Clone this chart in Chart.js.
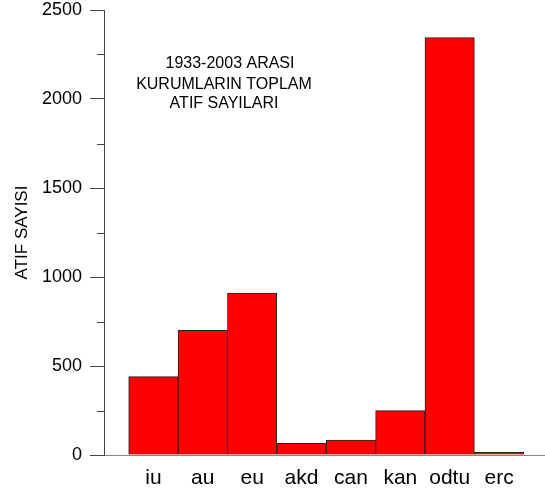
<!DOCTYPE html>
<html>
<head>
<meta charset="utf-8">
<script src="https://cdn.jsdelivr.net/npm/chart.js@4/dist/chart.umd.min.js"></script>
<style>
    html, body { margin: 0; padding: 0; background: #fff; }
    #wrap { width: 545px; height: 496px; }
</style>
</head>
<body>
<div id="wrap"><canvas id="chart"></canvas></div>
<script>
    // kurum kisaltmalari ve toplam atif sayilari (1933-2003)
    var kurumlar = ['iu', 'au', 'eu', 'akd', 'can', 'kan', 'odtu', 'erc'];
    var atifSayilari = [440, 700, 910, 66, 84, 249, 2345, 15];

    var yTicks = [0, 500, 1000, 1500, 2000, 2500];
    var yMinorTicks = [250, 750, 1250, 1750, 2250];

    var titleLines = ['1933-2003 ARASI', 'KURUMLARIN TOPLAM', 'ATIF SAYILARI'];

    var FONT = '"Liberation Sans", Arial, sans-serif';

    // bars sit on integer positions 1..8 of a linear x scale
    var points = atifSayilari.map(function(v, i) {
        return { x: i + 1, y: v };
    });

    var extrasPlugin = {
        id: 'extras',
        afterDraw: function(chart) {
            var ctx = chart.ctx;
            var yScale = chart.scales.y;
            var left = chart.chartArea.left;

            // short minor ticks on the y axis
            ctx.save();
            ctx.strokeStyle = '#444';
            ctx.lineWidth = 1;
            yMinorTicks.forEach(function(v) {
                var py = Math.round(yScale.getPixelForValue(v)) + 0.5;
                ctx.beginPath();
                ctx.moveTo(left - 7, py);
                ctx.lineTo(left, py);
                ctx.stroke();
            });

            // heading inside the plot area
            ctx.fillStyle = '#000';
            ctx.font = '16px ' + FONT;
            ctx.textAlign = 'center';
            ctx.textBaseline = 'middle';
            var xs = [230, 224, 224];
            var ys = [64, 85, 104];
            titleLines.forEach(function(line, i) {
                ctx.fillText(line, xs[i], ys[i]);
            });
            ctx.restore();
        }
    };

    new Chart(document.getElementById('chart'), {
        type: 'bar',
        data: {
            datasets: [{
                data: points,
                backgroundColor: '#ff0000',
                borderColor: '#222',
                borderWidth: 1,
                barPercentage: 1,
                categoryPercentage: 1
            }]
        },
        options: {
            responsive: true,
            maintainAspectRatio: false,
            animation: false,
            layout: { padding: 0 },
            plugins: {
                legend: { display: false },
                tooltip: { enabled: false }
            },
            scales: {
                x: {
                    type: 'linear',
                    offset: false,
                    min: 0,
                    max: 8.93,
                    afterFit: function(scale) { scale.height = 41; },
                    grid: { display: false, drawTicks: false },
                    border: { display: true, color: '#888', width: 1 },
                    ticks: {
                        stepSize: 1,
                        includeBounds: false,
                        autoSkip: false,
                        maxRotation: 0,
                        padding: 11,
                        color: '#000',
                        font: { family: FONT, size: 21 },
                        callback: function(v) {
                            return kurumlar[v - 1] || '';
                        }
                    }
                },
                y: {
                    min: 0,
                    max: 2500,
                    afterFit: function(scale) {
                        scale.width = 104;
                        scale.paddingTop = 10;
                        scale.paddingBottom = 0;
                    },
                    afterBuildTicks: function(scale) {
                        scale.ticks = yTicks.map(function(v) { return { value: v }; });
                    },
                    grid: {
                        drawOnChartArea: false,
                        tickLength: 14,
                        tickColor: '#444'
                    },
                    border: { display: true, color: '#444', width: 1 },
                    ticks: {
                        padding: 8,
                        color: '#000',
                        font: { family: FONT, size: 18, lineHeight: 1 },
                        callback: function(v) { return String(v); }
                    },
                    title: {
                        display: true,
                        text: 'ATIF SAYISI',
                        color: '#000',
                        padding: { top: 12, bottom: 0 },
                        font: { family: FONT, size: 17 }
                    }
                }
            }
        },
        plugins: [extrasPlugin]
    });
</script>
</body>
</html>
